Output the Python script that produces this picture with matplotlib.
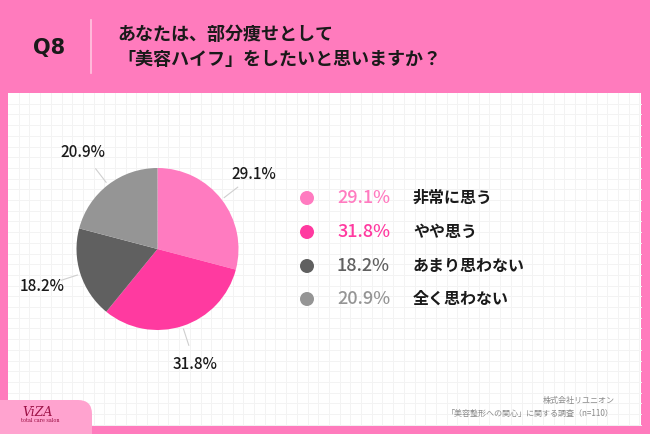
import numpy as np
import matplotlib.pyplot as plt
from matplotlib.patches import Rectangle, FancyBboxPatch, Circle

plt.rcParams['font.family'] = ['Noto Sans CJK JP', 'DejaVu Sans']

# Data
categories = ['非常に思う', 'やや思う', 'あまり思わない', '全く思わない']
values = [29.1, 31.8, 18.2, 20.9]
colors = ['#ff7bc0', '#ff3aa0', '#606060', '#959595']

question = 'あなたは、部分痩せとして\n「美容ハイフ」をしたいと思いますか？'
qlabel = 'Q8'
company = '株式会社リユニオン'
survey = '「美容整形への関心」に関する調査（n=110）'

W, H = 650, 434
fig = plt.figure(figsize=(W / 100, H / 100), dpi=100)
fig.patch.set_facecolor('#ff7bbd')

# Background axes in pixel coordinates
bg = fig.add_axes([0, 0, 1, 1])
bg.set_xlim(0, W)
bg.set_ylim(H, 0)
bg.axis('off')

# white panel with light grid
px0, py0, px1, py1 = 8, 93, 641, 425
bg.add_patch(Rectangle((px0, py0), px1 - px0, py1 - py0, facecolor='white',
                       edgecolor='none', zorder=1))
step = 10.7
for gx in np.arange(px0 + step, px1, step):
    bg.plot([gx, gx], [py0, py1], color='#f3f3f3', lw=0.7, zorder=2)
for gy in np.arange(py0 + step, py1, step):
    bg.plot([px0, px1], [gy, gy], color='#f3f3f3', lw=0.7, zorder=2)

# header
bg.text(49, 48, qlabel, fontsize=15, fontweight='bold', color='#1a1a1a',
        ha='center', va='center', family='DejaVu Sans')
bg.plot([91, 91], [20, 73], color='#ffc6e0', lw=1.2)
bg.text(117, 47, question, fontsize=13, fontweight='bold', color='#1a1a1a',
        ha='left', va='center', linespacing=1.45)

# footer
bg.text(615, 400, company, fontsize=5.8, color='#8a8a8a', ha='right', va='center', zorder=3)
bg.text(614, 413, survey, fontsize=5.8, color='#8a8a8a', ha='right', va='center', zorder=3)

# logo box
bg.add_patch(FancyBboxPatch((-20, 400), 112, 60, boxstyle='round,pad=0,rounding_size=14',
                            facecolor='#ffa3cf', edgecolor='none', zorder=4))
bg.text(38, 412, 'ViZA', fontsize=9, color='#9c1045', ha='center', va='center',
        family='DejaVu Serif', style='italic', zorder=5)
bg.text(40, 421, 'total care salon', fontsize=3.5, color='#9c1045', ha='center',
        va='center', family='DejaVu Serif', zorder=5)

# legend
leg_y = [198, 232, 266, 299]
for i, (cat, val, c) in enumerate(zip(categories, values, colors)):
    bg.add_patch(Circle((307, leg_y[i]), 7, facecolor=c, edgecolor='none', zorder=3))
    bg.text(337, leg_y[i], f'{val}%', fontsize=13, color=c, ha='left', va='center',
            fontweight='medium', zorder=3)
    bg.text(413, leg_y[i], cat, fontsize=11.5, fontweight='bold', color='#1a1a1a',
            ha='left', va='center', zorder=3)

# pie
cx, cy, r = 157.5, 249, 81
pad = 1.7
ax = fig.add_axes([(cx - r * pad) / W, 1 - (cy + r * pad) / H,
                   2 * r * pad / W, 2 * r * pad / H])
wedges, _ = ax.pie(values, colors=colors, startangle=90, counterclock=False,
                   wedgeprops=dict(linewidth=0))
ax.set_xlim(-pad, pad)
ax.set_ylim(-pad, pad)
ax.set_aspect('equal')
ax.axis('off')

for w, val in zip(wedges, values):
    ang = np.deg2rad((w.theta1 + w.theta2) / 2)
    ca, sa = np.cos(ang), np.sin(ang)
    ax.plot([1.04 * ca, 1.25 * ca], [1.04 * sa, 1.25 * sa], color='#cfcfcf', lw=0.8)
    ax.text(1.5 * ca, 1.5 * sa, f'{val}%', fontsize=11, fontweight='medium',
            color='#1a1a1a', ha='center', va='center')

fig.savefig('out.png', dpi=100, facecolor=fig.get_facecolor())
